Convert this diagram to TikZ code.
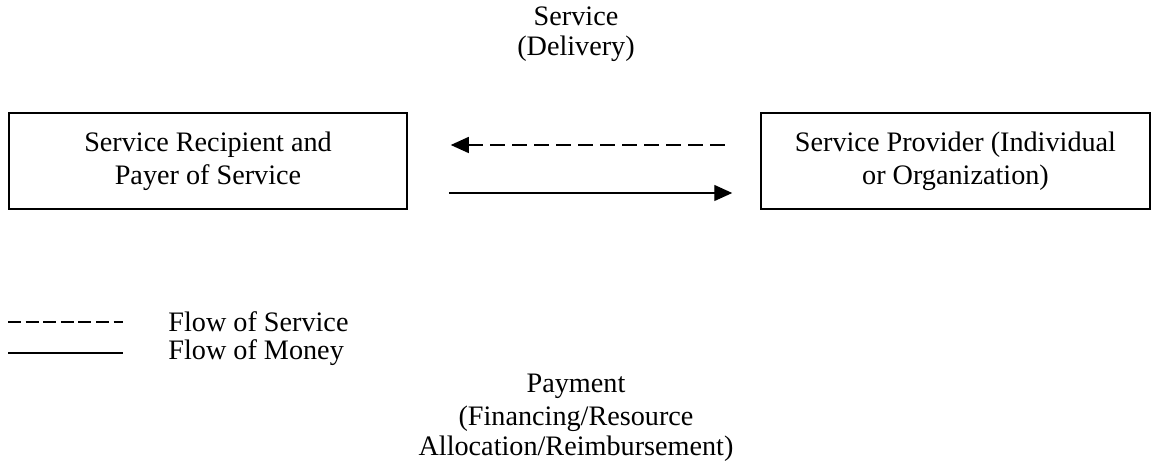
\documentclass[tikz,border=0pt]{standalone}
\usepackage{fontspec}
\setmainfont{Liberation Serif}
\usepackage{tikz}
\usetikzlibrary{positioning}
\usetikzlibrary{arrows.meta}
\tikzset{
    none/.style = {inner sep=0pt},
    party/.style = {draw, line width=0.75pt, inner sep=0pt, align=center},
    label/.style = {inner sep=0pt, align=center},
    service/.style = {line width=0.7pt, dash pattern=on 7.5pt off 3.5pt},
    money/.style = {line width=0.7pt},
    tip/.style = {>={Triangle[length=9pt, width=8pt]}}
}

\begin{document}
\begin{tikzpicture}[x=0.5pt, y=-0.5pt, font=\fontsize{14.1}{16.5}\selectfont]
    \useasboundingbox (0, 0) rectangle (1153, 475);
    % the two parties
    \node [party, minimum width=199pt, minimum height=48pt] (recip) at (208, 161)
        {Service Recipient and\\Payer of Service};
    \node [party, minimum width=194.5pt, minimum height=48pt] (prov) at (955.5, 161)
        {Service Provider (Individual\\or Organization)};
    % labels above and below
    \node [label] (svc) at (576, 16) {Service};
    \node [label] (dlv) at (576, 49) {(Delivery)};
    \node [label] (pay) at (576, 386) {Payment};
    \node [label] (fin) at (576, 434) {(Financing/Resource\\[-1.5pt]Allocation/Reimbursement)};
    % flows between the parties
    \draw [service, tip, <-, shorten <=21.5pt, shorten >=14pt]
        ([yshift=8pt]recip.east) to ([yshift=8pt]prov.west);
    \draw [money, tip, ->, shorten <=20.5pt, shorten >=14pt]
        ([yshift=-16pt]recip.east) to ([yshift=-16pt]prov.west);
    % key
    \coordinate (k0) at (8, 322);
    \coordinate (k1) at (123, 322);
    \coordinate (k2) at (8, 353);
    \coordinate (k3) at (123, 353);
    \node [label, anchor=west] (ksvc) at (168, 322) {Flow of Service};
    \node [label, anchor=west] (kmny) at (168, 353) {Flow of Money};
    \draw [line width=0.7pt, dash pattern=on 6.5pt off 2.3pt] (k0) to (k1);
    \draw [money] (k2) to (k3);
\end{tikzpicture}
\end{document}
